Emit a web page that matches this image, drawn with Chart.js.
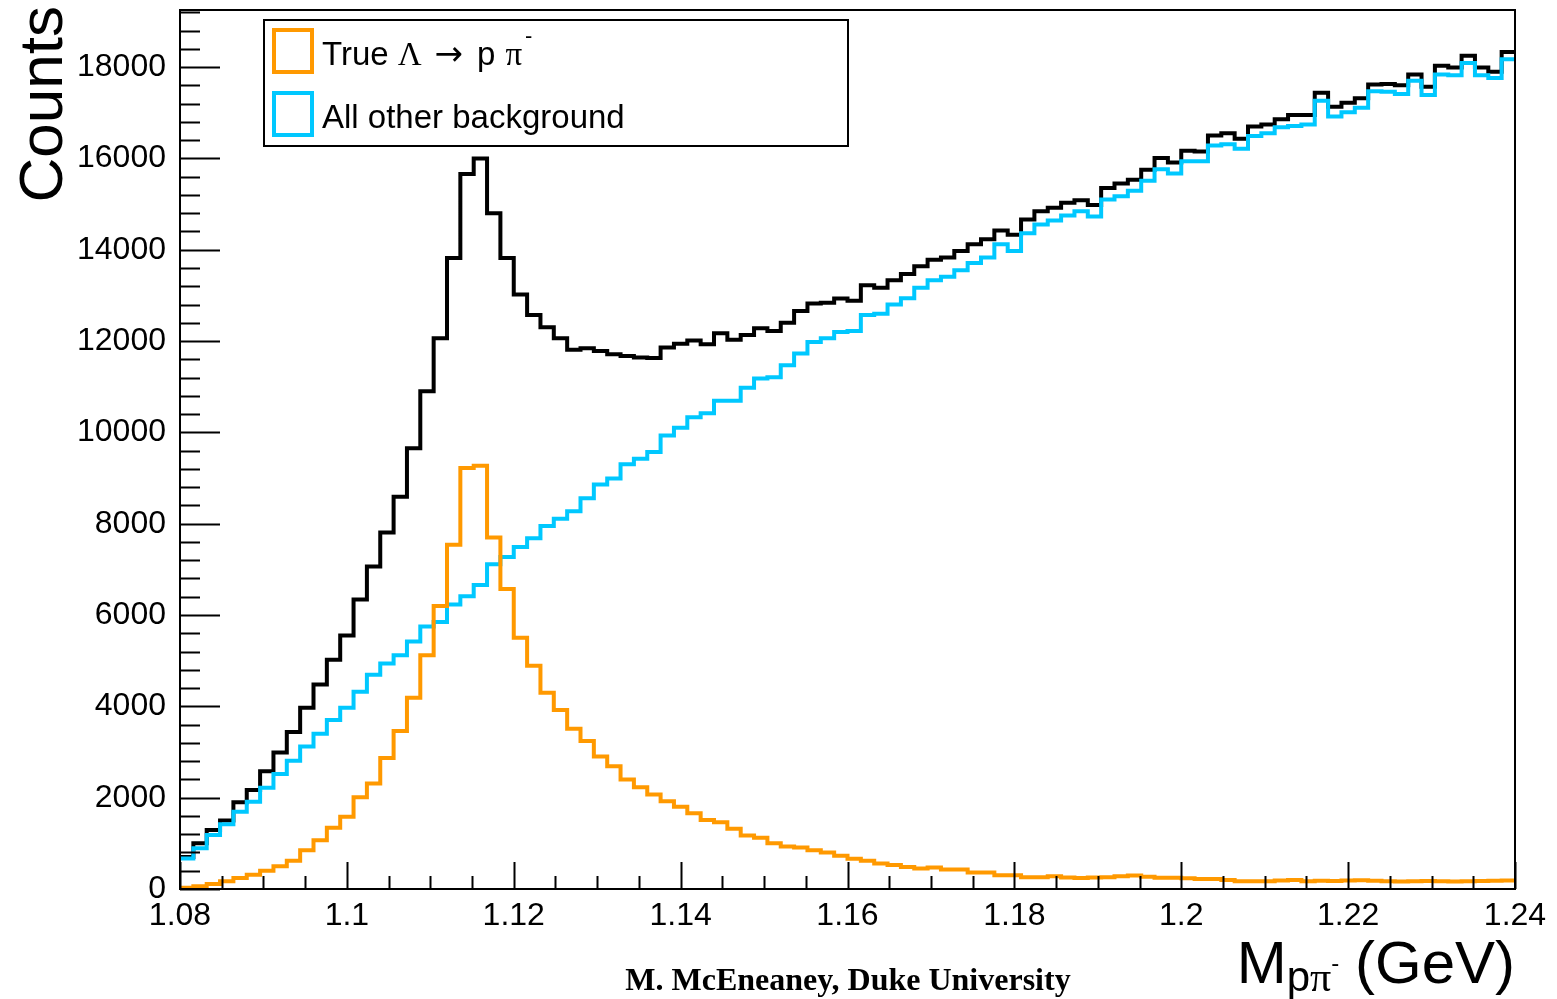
<!DOCTYPE html>
<html>
<head>
<meta charset="utf-8">
<title>Lambda invariant mass</title>
<script src="https://cdn.jsdelivr.net/npm/chart.js@4.4.1/dist/chart.umd.min.js"></script>
<style>
  html, body { margin: 0; padding: 0; background: #fff; overflow: hidden; }
  #wrap { position: relative; width: 1557px; height: 999px; }
</style>
</head>
<body>
<div id="wrap"><canvas id="massChart" width="1557" height="999"></canvas></div>
<script>
// Histogramm-Binning: 100 Bins von 1.08 bis 1.24 GeV
const xMin = 1.08;
const xMax = 1.24;
const nBins = 100;
const binLowEdges = Array.from({ length: nBins }, (_, i) => xMin + i * (xMax - xMin) / nBins);

// Achsenbeschriftungen
const xTickLabels = [1.08, 1.1, 1.12, 1.14, 1.16, 1.18, 1.2, 1.22, 1.24];
const yTickLabels = [0, 2000, 4000, 6000, 8000, 10000, 12000, 14000, 16000, 18000];

// Summe aller Einträge (schwarz)
const totalCounts = [
  700, 1000, 1290, 1500, 1900, 2170, 2580, 2990, 3440, 3970,
  4480, 5020, 5550, 6340, 7060, 7810, 8590, 9650, 10900, 12060,
  13820, 15660, 16000, 14800, 13820, 13020, 12570, 12300, 12060, 11810,
  11840, 11780, 11710, 11670, 11640, 11630, 11860, 11940, 12010, 11930,
  12170, 12030, 12130, 12280, 12220, 12400, 12660, 12820, 12840, 12930,
  12880, 13220, 13170, 13330, 13470, 13640, 13780, 13830, 13970, 14120,
  14230, 14420, 14330, 14660, 14840, 14920, 15030, 15085, 14980, 15350,
  15450, 15530, 15750, 16010, 15910, 16170, 16150, 16500, 16550, 16430,
  16700, 16740, 16860, 16950, 16950, 17440, 17130, 17220, 17320, 17620,
  17630, 17600, 17840, 17570, 18030, 17990, 18250, 17990, 17900, 18330
];

// Untergrund (cyan)
const backgroundCounts = [
  670, 890, 1180, 1420, 1690, 1910, 2220, 2520, 2810, 3120,
  3400, 3700, 3970, 4320, 4690, 4940, 5120, 5420, 5750, 5850,
  6230, 6410, 6660, 7110, 7270, 7490, 7680, 7950, 8110, 8270,
  8560, 8860, 8990, 9300, 9420, 9570, 9930, 10100, 10330, 10420,
  10690, 10690, 10980, 11180, 11210, 11470, 11730, 11980, 12060, 12200,
  12220, 12570, 12600, 12800, 12940, 13170, 13330, 13410, 13550, 13710,
  13830, 14120, 13970, 14360, 14550, 14640, 14750, 14840, 14730, 15100,
  15170, 15290, 15510, 15760, 15670, 15940, 15940, 16280, 16310, 16210,
  16490, 16550, 16680, 16710, 16740, 17260, 16920, 17010, 17110, 17470,
  17460, 17410, 17700, 17390, 17840, 17820, 18090, 17820, 17760, 18170
];

// Echte Lambda -> p pi- (orange)
const lambdaCounts = [
  30, 60, 110, 170, 240, 310, 400, 500, 620, 850,
  1070, 1340, 1580, 2010, 2310, 2870, 3460, 4190, 5120, 6200,
  7540, 9220, 9270, 7700, 6570, 5500, 4890, 4300, 3920, 3510,
  3240, 2900, 2690, 2400, 2230, 2070, 1920, 1800, 1660, 1510,
  1460, 1320, 1170, 1120, 1000, 930, 910, 850, 800, 730,
  660, 620, 560, 525, 480, 450, 470, 425, 425, 360,
  360, 300, 300, 260, 260, 280, 250, 240, 250, 258,
  280, 295, 270, 246, 246, 233, 221, 221, 196, 172,
  172, 172, 184, 196, 172, 180, 175, 185, 190, 180,
  170, 165, 170, 175, 170, 165, 170, 175, 180, 185
];

const yMax = 19250;

const legendLabels = ['True Λ → p π⁻', 'All other background'];

const colLambda = '#ff9900';
const colBkg = '#00c8ff';
const colTotal = '#000000';

const sansFont = '"Liberation Sans", Arial, Helvetica, sans-serif';
const serifFont = '"Liberation Serif", "Times New Roman", Times, serif';

// Stufenpunkte: linke Binkante + Endpunkt bei xMax
function histPoints(counts) {
  const pts = counts.map((c, i) => ({ x: binLowEdges[i], y: c }));
  pts.push({ x: xMax, y: counts[counts.length - 1] });
  return pts;
}

/* ROOT-artiger Rahmen, Ticks, Legende und Titel ------------------------------------------------ */
const rootStyle = {
  id: 'rootStyle',
  afterDatasetsDraw(chart) {
    const ctx = chart.ctx;
    const a = chart.chartArea;
    const xs = chart.scales.x;
    const ys = chart.scales.y;
    ctx.save();

    // Rahmen
    ctx.strokeStyle = '#000';
    ctx.lineWidth = 2;
    ctx.strokeRect(a.left, a.top, a.right - a.left, a.bottom - a.top);

    // Y-Ticks (innen, 5 Unterteilungen)
    ctx.beginPath();
    for (let k = 0; k * 400 <= yMax; k++) {
      const py = Math.round(ys.getPixelForValue(k * 400)) + 0.5;
      const len = (k % 5 === 0) ? 40 : 20;
      ctx.moveTo(a.left, py);
      ctx.lineTo(a.left + len, py);
    }
    // X-Ticks (innen, 4 Unterteilungen)
    for (let k = 0; k <= 32; k++) {
      const px = Math.round(xs.getPixelForValue(xMin + k * 0.005)) + 0.5;
      const len = (k % 4 === 0) ? 27 : 13;
      ctx.moveTo(px, a.bottom);
      ctx.lineTo(px, a.bottom - len);
    }
    ctx.stroke();

    // Legende
    ctx.lineWidth = 2;
    ctx.strokeRect(264, 20, 584, 126);
    ctx.lineWidth = 4;
    ctx.strokeStyle = colLambda;
    ctx.strokeRect(274, 30, 38, 42);
    ctx.strokeStyle = colBkg;
    ctx.strokeRect(274, 93, 38, 42);

    ctx.fillStyle = '#000';
    ctx.textBaseline = 'alphabetic';
    ctx.textAlign = 'left';
    // Teilstücke mit zusätzlichem Abstand danach
    let tx = 322;
    const pieces = [
      ['True', '33px ' + sansFont, 9],
      ['Λ', '33px ' + serifFont, 13],
      ['→', '34px "DejaVu Sans", sans-serif', 14],
      ['p', '33px ' + sansFont, 10],
      ['π', '33px ' + serifFont, 3]
    ];
    pieces.forEach(([t, f, gap]) => {
      ctx.font = f;
      ctx.fillText(t, tx, 65);
      tx += ctx.measureText(t).width + gap;
    });
    ctx.font = '22px ' + sansFont;
    ctx.fillText('-', tx, 43);

    ctx.font = '33px ' + sansFont;
    ctx.fillText(legendLabels[1], 322, 128);

    // Y-Titel
    ctx.save();
    ctx.translate(62, 6);
    ctx.rotate(-Math.PI / 2);
    ctx.textAlign = 'right';
    ctx.font = '62px ' + sansFont;
    ctx.fillText('Counts', 0, 0);
    ctx.restore();

    // X-Titel: M_{p pi^-} (GeV), rechtsbündig
    ctx.textAlign = 'left';
    const big = '60px ' + sansFont;
    const small = '42px ';
    const baseY = 983;
    ctx.font = big;
    const wGeV = ctx.measureText(' (GeV)').width;
    const wM = ctx.measureText('M').width;
    ctx.font = small + sansFont;
    const wp = ctx.measureText('p').width;
    ctx.font = small + serifFont;
    const wpi = ctx.measureText('π').width;
    const wSup = 7;
    let x0 = a.right - wGeV - wSup - wpi - wp - wM;
    ctx.font = big;
    ctx.fillText('M', x0, baseY);
    x0 += wM;
    ctx.font = small + sansFont;
    ctx.fillText('p', x0, baseY + 8);
    x0 += wp;
    ctx.font = small + serifFont;
    ctx.fillText('π', x0, baseY + 8);
    x0 += wpi;
    ctx.font = '24px ' + sansFont;
    ctx.fillText('-', x0, baseY - 12);
    x0 += wSup;
    ctx.font = big;
    ctx.fillText(' (GeV)', x0, baseY);

    // Credit
    ctx.textAlign = 'center';
    ctx.font = 'bold 32px ' + serifFont;
    ctx.fillText('M. McEneaney, Duke University', 848, 990);

    ctx.restore();
  }
};

const massChart = new Chart(document.getElementById('massChart'), {
  type: 'line',
  data: {
    datasets: [
      {
        label: 'Total',
        data: histPoints(totalCounts),
        borderColor: colTotal,
        borderWidth: 4,
        stepped: 'before',
        pointRadius: 0,
        fill: false,
        order: 3
      },
      {
        label: legendLabels[1],
        data: histPoints(backgroundCounts),
        borderColor: colBkg,
        borderWidth: 4,
        stepped: 'before',
        pointRadius: 0,
        fill: false,
        order: 2
      },
      {
        label: legendLabels[0],
        data: histPoints(lambdaCounts),
        borderColor: colLambda,
        borderWidth: 4,
        stepped: 'before',
        pointRadius: 0,
        fill: false,
        order: 1
      }
    ]
  },
  options: {
    responsive: false,
    animation: false,
    devicePixelRatio: 1,
    layout: { padding: { left: 0, top: 10, right: 42, bottom: 0 } },
    plugins: {
      legend: { display: false },
      tooltip: { enabled: false },
      title: { display: false }
    },
    scales: {
      x: {
        type: 'linear',
        min: xMin,
        max: xMax,
        grid: { display: false },
        border: { display: false },
        afterBuildTicks: s => { s.ticks = xTickLabels.map(v => ({ value: v })); },
        ticks: {
          autoSkip: false,
          maxRotation: 0,
          padding: 0,
          color: '#000',
          font: { family: sansFont, size: 32 },
          callback: v => String(Math.round(v * 1000) / 1000)
        },
        afterFit: s => {
          s.height = 110;
          s.paddingLeft = 0;
          s.paddingRight = 0;
        }
      },
      y: {
        min: 0,
        max: yMax,
        grid: { display: false },
        border: { display: false },
        afterBuildTicks: s => { s.ticks = yTickLabels.map(v => ({ value: v })); },
        ticks: {
          autoSkip: false,
          padding: 6,
          color: '#000',
          font: { family: sansFont, size: 32 },
          callback: v => String(v)
        },
        afterFit: s => {
          s.width = 180;
          s.paddingTop = 0;
          s.paddingBottom = 0;
        }
      }
    }
  },
  plugins: [rootStyle]
});
</script>
</body>
</html>
